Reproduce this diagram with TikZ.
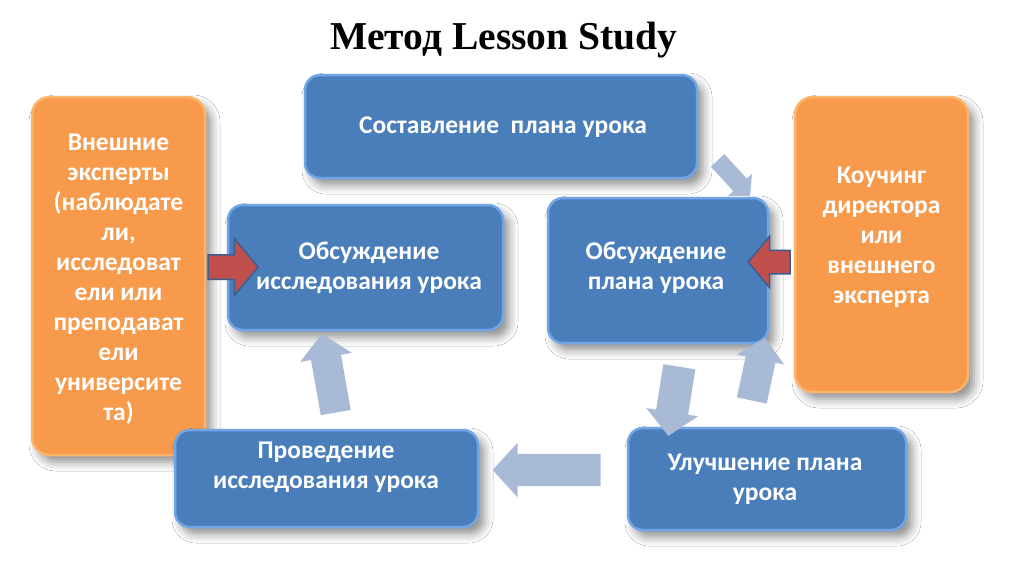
\documentclass[tikz,border=0pt]{standalone}
\usepackage{fontspec}
\setmainfont{Carlito}
\newfontfamily\titlefont{Liberation Serif}
\usetikzlibrary{shapes.arrows,shadows.blur}
\definecolor{boxblue}{HTML}{4A7EBB}
\definecolor{boxblueedge}{HTML}{70A5E6}
\definecolor{boxorange}{HTML}{F79A4C}
\definecolor{boxorangeedge}{HTML}{FBB56A}
\definecolor{arrowlight}{HTML}{A9BAD7}
\definecolor{arrowred}{HTML}{C0504D}
\definecolor{arrowredge}{HTML}{3B5E8C}
\begin{document}
\begin{tikzpicture}[x=1pt,y=-1pt,
  boxshadow/.style={blur shadow={shadow xshift=6pt, shadow yshift=-7pt, shadow blur radius=9pt, shadow opacity=45}},
  bluebox/.style={draw=boxblueedge, line width=2.5pt, fill=boxblue, rounded corners=15pt, inner sep=0pt, boxshadow},
  orangebox/.style={draw=boxorangeedge, line width=2.5pt, fill=boxorange, rounded corners=18pt, inner sep=0pt, boxshadow},
  boxtext/.style={text=white, font=\bfseries\fontsize{25.5}{30}\selectfont, align=center, inner sep=0pt},
  lightarrow/.style={single arrow, fill=arrowlight, draw=none, inner xsep=0pt, single arrow tip angle=95},
  redarrow/.style={single arrow, fill=arrowred, draw=arrowredge, line width=1.5pt, inner xsep=0pt, single arrow tip angle=100}
  ]
\useasboundingbox[fill=white] (0,0) rectangle (1024,574);
% title
\node[font=\titlefont\bfseries\fontsize{39.5}{44}\selectfont, inner sep=0pt] (title) at (504,40) {Метод Lesson Study};
% boxes
\node[bluebox, minimum width=392pt, minimum height=103pt] (plan) at (501,126.5) {};
\node[bluebox, minimum width=275pt, minimum height=125pt] (obsres) at (365.5,267.5) {};
\node[bluebox, minimum width=220pt, minimum height=145pt] (obsplan) at (658,270.5) {};
\node[orangebox, minimum width=173pt, minimum height=358pt] (experts) at (118.5,276) {};
\node[orangebox, minimum width=173pt, minimum height=295pt] (coach) at (881.5,244.5) {};
\node[bluebox, minimum width=303pt, minimum height=97pt] (conduct) at (326.5,478.5) {};
\node[bluebox, minimum width=278pt, minimum height=102pt] (improve) at (767,479) {};
% texts
\node[boxtext] (plantxt) at (503,127) {Составление~ плана урока};
\node[boxtext] (obsrestxt) at (369,267.5) {Обсуждение\\исследования урока};
\node[boxtext] (obsplantxt) at (656,267.5) {Обсуждение\\плана урока};
\node[boxtext] (expertstxt) at (118.5,279.5) {Внешние\\эксперты\\(наблюдате\\ли,\\исследоват\\ели или\\преподават\\ели\\университе\\та)};
\node[boxtext] (coachtxt) at (881.5,237.5) {Коучинг\\директора\\или\\внешнего\\эксперта};
\node[boxtext] (conducttxt) at (326,467) {Проведение\\исследования урока};
\node[boxtext] (improvetxt) at (765,479.5) {Улучшение плана\\урока};
% light arrows
\node[lightarrow, minimum height=48pt, inner ysep=9pt, single arrow head extend=7pt, rotate=-47.6] (a1) at (731,175) {};
\node[lightarrow, minimum height=70pt, inner ysep=16pt, single arrow head extend=10pt, rotate=-99] (a2) at (675,394) {};
\node[lightarrow, minimum height=64pt, inner ysep=15pt, single arrow head extend=9pt, rotate=78] (a3) at (757,376) {};
\node[lightarrow, minimum height=80pt, inner ysep=15pt, single arrow head extend=11pt, rotate=100] (a4) at (330,380) {};
\node[lightarrow, minimum height=108pt, inner ysep=16pt, single arrow head extend=11pt, rotate=180] (a5) at (554,470) {};
% red arrows
\node[redarrow, minimum height=50pt, inner ysep=11.5pt, single arrow head extend=16pt] (r1) at (228,267) {};
\node[redarrow, minimum height=42pt, inner ysep=11pt, single arrow head extend=14pt, rotate=180] (r2) at (774,262) {};
\end{tikzpicture}
\end{document}
